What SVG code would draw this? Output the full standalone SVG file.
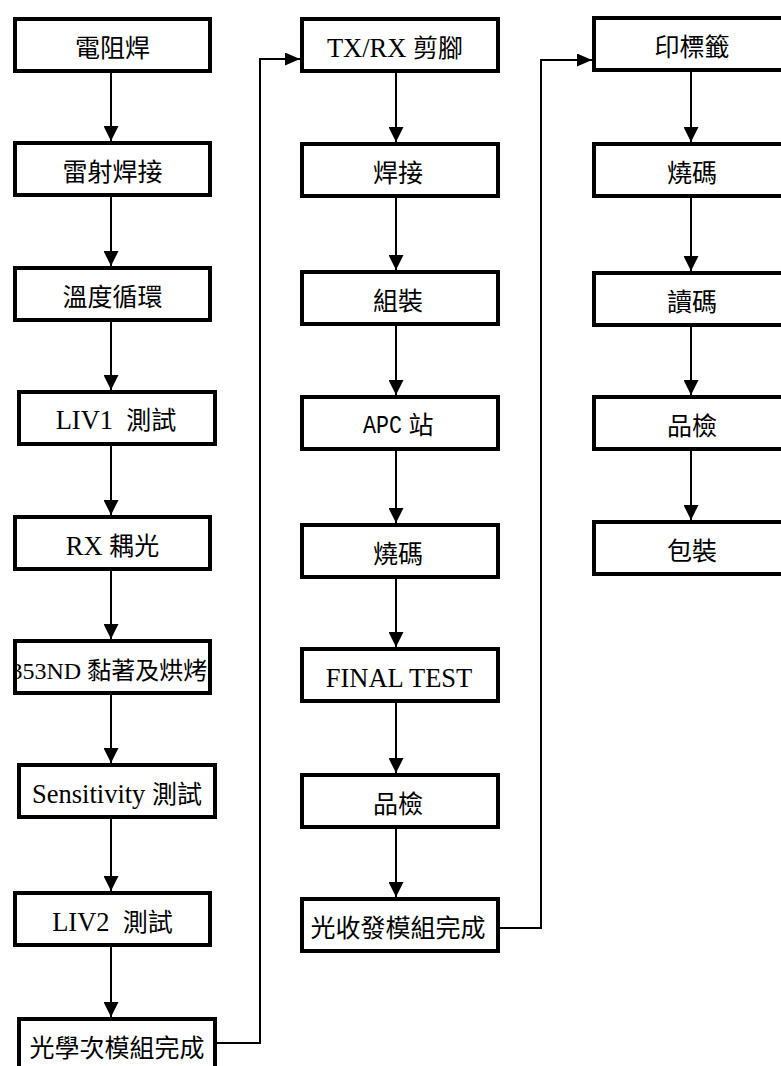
<svg xmlns="http://www.w3.org/2000/svg" width="781" height="1066" viewBox="0 0 781 1066">
<style>
.box{fill:#fff;stroke:#000;stroke-width:4}
.t{font-family:"Liberation Serif","Noto Sans CJK TC",serif;font-size:25px;fill:#000;text-anchor:middle;white-space:pre}
.l{font-size:26.5px}
.mono{font-family:"Liberation Mono",monospace;font-size:26px;text-anchor:start}
.c{fill:none;stroke:#000;stroke-width:2}
</style>
<defs>
<marker id="ah" markerWidth="15" markerHeight="15" refX="15" refY="7.5" orient="auto" markerUnits="userSpaceOnUse">
<path d="M0,0 L15,7.5 L0,15 z" fill="#000"/>
</marker>
<marker id="ahh" markerWidth="15" markerHeight="13" refX="15" refY="6.5" orient="auto" markerUnits="userSpaceOnUse">
<path d="M0,0 L15,6.5 L0,13 z" fill="#000"/>
</marker>
<clipPath id="clip6"><rect x="17" y="643" width="191" height="48"/></clipPath>
</defs>
<rect width="781" height="1066" fill="#fff"/>
<g id="connectors">
<line class="c" x1="111" y1="73" x2="111" y2="141" marker-end="url(#ah)"/>
<line class="c" x1="111" y1="197" x2="111" y2="266" marker-end="url(#ah)"/>
<line class="c" x1="111" y1="322" x2="111" y2="390" marker-end="url(#ah)"/>
<line class="c" x1="111" y1="446" x2="111" y2="515" marker-end="url(#ah)"/>
<line class="c" x1="111" y1="571" x2="111" y2="639" marker-end="url(#ah)"/>
<line class="c" x1="111" y1="695" x2="111" y2="763" marker-end="url(#ah)"/>
<line class="c" x1="111" y1="819" x2="111" y2="891" marker-end="url(#ah)"/>
<line class="c" x1="111" y1="947" x2="111" y2="1017" marker-end="url(#ah)"/>
<path class="c" d="M217,1043 H260 V59 H300" marker-end="url(#ahh)"/>
<line class="c" x1="396" y1="73" x2="396" y2="142" marker-end="url(#ah)"/>
<line class="c" x1="396" y1="198" x2="396" y2="270" marker-end="url(#ah)"/>
<line class="c" x1="396" y1="326" x2="396" y2="395" marker-end="url(#ah)"/>
<line class="c" x1="396" y1="451" x2="396" y2="523" marker-end="url(#ah)"/>
<line class="c" x1="396" y1="579" x2="396" y2="647" marker-end="url(#ah)"/>
<line class="c" x1="396" y1="703" x2="396" y2="773" marker-end="url(#ah)"/>
<line class="c" x1="396" y1="829" x2="396" y2="897" marker-end="url(#ah)"/>
<path class="c" d="M500,928 H541 V60 H592" marker-end="url(#ahh)"/>
<line class="c" x1="691" y1="72" x2="691" y2="142" marker-end="url(#ah)"/>
<line class="c" x1="691" y1="198" x2="691" y2="271" marker-end="url(#ah)"/>
<line class="c" x1="691" y1="327" x2="691" y2="395" marker-end="url(#ah)"/>
<line class="c" x1="691" y1="451" x2="691" y2="520" marker-end="url(#ah)"/>
</g>
<g id="n1"><rect class="box" x="15" y="19" width="195" height="52"/><text class="t" x="112.5" y="57">電阻焊</text></g>
<g id="n2"><rect class="box" x="15" y="143" width="195" height="52"/><text class="t" x="112.5" y="181">雷射焊接</text></g>
<g id="n3"><rect class="box" x="15" y="268" width="195" height="52"/><text class="t" x="112.5" y="306">溫度循環</text></g>
<g id="n4"><rect class="box" x="19" y="392" width="196" height="52"/><text class="t" x="116" y="429"><tspan class="l">LIV1  </tspan>測試</text></g>
<g id="n5"><rect class="box" x="15" y="517" width="195" height="52"/><text class="t" x="112.5" y="555"><tspan class="l">RX </tspan>耦光</text></g>
<g id="n6"><rect class="box" x="15" y="641" width="195" height="52"/><text class="t" x="10.5" y="679" style="font-size:24px;text-anchor:start" clip-path="url(#clip6)">353ND 黏著及烘烤</text></g>
<g id="n7"><rect class="box" x="19" y="765" width="196" height="52"/><text class="t" x="117" y="803"><tspan class="l">Sensitivity </tspan>測試</text></g>
<g id="n8"><rect class="box" x="15" y="893" width="195" height="52"/><text class="t" x="112.5" y="931"><tspan class="l">LIV2  </tspan>測試</text></g>
<g id="n9"><rect class="box" x="19" y="1019" width="196" height="52"/><text class="t" x="117" y="1057">光學次模組完成</text></g>
<g id="m1"><rect class="box" x="302" y="19" width="196" height="52"/><text class="t" x="395" y="57"><tspan class="l">TX/RX </tspan>剪腳</text></g>
<g id="m2"><rect class="box" x="302" y="144" width="196" height="52"/><text class="t" x="398" y="182">焊接</text></g>
<g id="m3"><rect class="box" x="302" y="272" width="196" height="52"/><text class="t" x="398" y="310">組裝</text></g>
<g id="m4"><rect class="box" x="302" y="397" width="196" height="52"/><text class="t mono" x="363" y="433" textLength="39" lengthAdjust="spacingAndGlyphs">APC</text><text class="t" x="421" y="434">站</text></g>
<g id="m5"><rect class="box" x="302" y="525" width="196" height="52"/><text class="t" x="398" y="563">燒碼</text></g>
<g id="m6"><rect class="box" x="302" y="649" width="196" height="52"/><text class="t l" x="399" y="687">FINAL TEST</text></g>
<g id="m7"><rect class="box" x="302" y="775" width="196" height="52"/><text class="t" x="398" y="813">品檢</text></g>
<g id="m8"><rect class="box" x="302" y="899" width="196" height="52"/><text class="t" x="398" y="937">光收發模組完成</text></g>
<g id="r1"><rect class="box" x="594" y="18" width="196" height="52"/><text class="t" x="692" y="56">印標籤</text></g>
<g id="r2"><rect class="box" x="594" y="144" width="196" height="52"/><text class="t" x="692" y="182">燒碼</text></g>
<g id="r3"><rect class="box" x="594" y="273" width="196" height="52"/><text class="t" x="692" y="311">讀碼</text></g>
<g id="r4"><rect class="box" x="594" y="397" width="196" height="52"/><text class="t" x="692" y="435">品檢</text></g>
<g id="r5"><rect class="box" x="594" y="522" width="196" height="52"/><text class="t" x="692" y="560">包裝</text></g>
</svg>
